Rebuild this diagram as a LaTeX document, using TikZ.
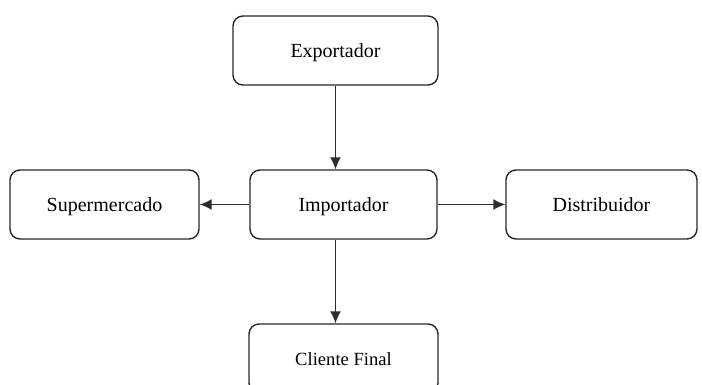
\documentclass[tikz,border=0pt]{standalone}
\usepackage{fontspec}
\setmainfont{Liberation Serif}
\usepackage{tikz}
\usetikzlibrary{arrows.meta,positioning,calc}
\definecolor{boxline}{RGB}{40, 40, 40}
\definecolor{flowline}{RGB}{45, 45, 45}

\tikzset{
    actor/.style={draw=boxline, line width=0.7pt, rounded corners=5pt, fill=white,
        minimum height=34.5pt, text height=9pt, text depth=2pt, align=center,
        font=\fontsize{10}{12}\selectfont},
    flow/.style={-{Latex[length=6pt,width=5.5pt]}, draw=flowline, line width=0.7pt}
}

\begin{document}
\begin{tikzpicture}[x=0.5pt,y=-0.5pt]
    \useasboundingbox (0,0) rectangle (702,385);
    \clip (0,0) rectangle (702,385);
    % cadeia de distribuicao
    \node[actor, minimum width=102.5pt] (exportador) at (335.5,50.5) {Exportador};
    \node[actor, minimum width=93.5pt] (importador) at (343.5,204.5) {Importador};
    \node[actor, minimum width=94.5pt] (supermercado) at (104.5,204.5) {Supermercado};
    \node[actor, minimum width=95.5pt] (distribuidor) at (601.5,204.5) {Distribuidor};
    \node[actor, minimum width=94.5pt, font=\fontsize{9.3}{11}\selectfont] (cliente) at (343.5,358.5) {Cliente Final};
    % fluxos
    \draw[flow] (exportador.south) -- (exportador.south |- importador.north);
    \draw[flow] (importador.west) -- (supermercado.east);
    \draw[flow] (importador.east) -- (distribuidor.west);
    \draw[flow] (exportador.south |- importador.south) -- (exportador.south |- cliente.north);
\end{tikzpicture}
\end{document}
